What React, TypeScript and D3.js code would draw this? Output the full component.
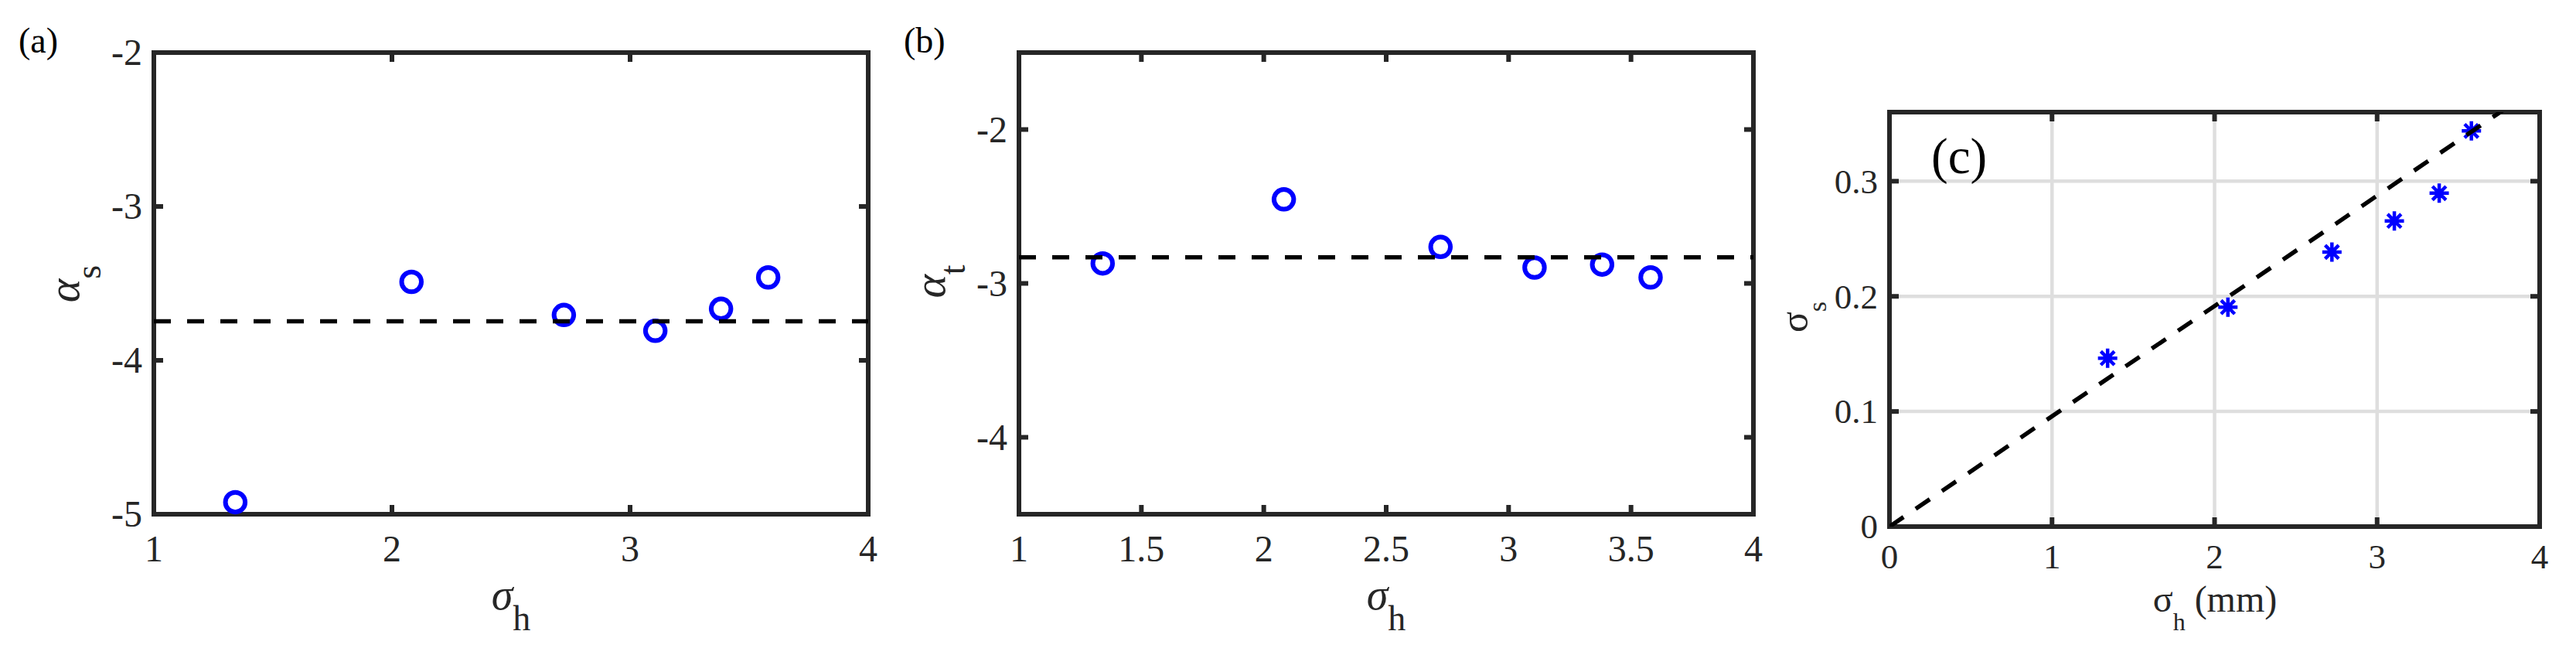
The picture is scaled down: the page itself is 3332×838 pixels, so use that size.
import React, { useEffect, useRef } from "react";
import * as d3 from "d3";

// sigma_h of the six cases (shared x values)
const sigmaH = [1.342, 2.082, 2.722, 3.106, 3.382, 3.58];
// panel (a) and (b) exponents, panel (c) sigma_s
const alphaS = [-4.922, -3.49, -3.705, -3.808, -3.665, -3.461];
const alphaT = [-2.87, -2.454, -2.763, -2.897, -2.878, -2.961];
const sigmaS = [0.1463, 0.1906, 0.2385, 0.2655, 0.2896, 0.3437];
// reference (dashed) lines
const alphaSLevel = -3.746;
const alphaTLevel = -2.83;
const fitSlope = 0.0958;

const ticksAx = [1, 2, 3, 4];
const ticksAy = [-5, -4, -3, -2];
const ticksBx = [1, 1.5, 2, 2.5, 3, 3.5, 4];
const ticksBy = [-4, -3, -2];
const ticksCx = [0, 1, 2, 3, 4];
const ticksCy = [0, 0.1, 0.2, 0.3];

const W = 3332;
const H = 838;
const AX = "#262626";
const BLUE = "#0000ff";
const FONT = "Liberation Serif, Times New Roman, Times, serif";

type Panel = {
  left: number; right: number; top: number; bottom: number;
  xDomain: [number, number]; yDomain: [number, number];
  xTicks: number[]; yTicks: number[];
  tickSize: number; xLabelY: number; grid: boolean;
};

function drawFrame(svg: any, p: Panel) {
  const x = d3.scaleLinear().domain(p.xDomain).range([p.left, p.right]);
  const y = d3.scaleLinear().domain(p.yDomain).range([p.bottom, p.top]);
  const g = svg.append("g");

  if (p.grid) {
    // light grid lines, under the data
    g.selectAll(".gx").data(p.xTicks.filter(t => t > p.xDomain[0] && t < p.xDomain[1]))
      .enter().append("line")
      .attr("x1", d => x(d)).attr("x2", d => x(d))
      .attr("y1", p.top).attr("y2", p.bottom)
      .attr("stroke", "#dedede").attr("stroke-width", 4.5);
    g.selectAll(".gy").data(p.yTicks.filter(t => t > p.yDomain[0] && t < p.yDomain[1]))
      .enter().append("line")
      .attr("y1", d => y(d)).attr("y2", d => y(d))
      .attr("x1", p.left).attr("x2", p.right)
      .attr("stroke", "#dedede").attr("stroke-width", 4.5);
  }

  const tl = 12;
  p.xTicks.forEach(t => {
    [[p.bottom, p.bottom - tl], [p.top, p.top + tl]].forEach(([a, b]) => {
      g.append("line").attr("x1", x(t)).attr("x2", x(t)).attr("y1", a).attr("y2", b)
        .attr("stroke", AX).attr("stroke-width", 6);
    });
    g.append("text").attr("x", x(t)).attr("y", p.xLabelY)
      .attr("text-anchor", "middle").attr("fill", AX)
      .attr("font-family", FONT).attr("font-size", p.tickSize)
      .text(String(t));
  });
  p.yTicks.forEach(t => {
    [[p.left, p.left + tl], [p.right, p.right - tl]].forEach(([a, b]) => {
      g.append("line").attr("y1", y(t)).attr("y2", y(t)).attr("x1", a).attr("x2", b)
        .attr("stroke", AX).attr("stroke-width", 6);
    });
    g.append("text").attr("x", p.left - 15).attr("y", y(t) + 0.34 * p.tickSize)
      .attr("text-anchor", "end").attr("fill", AX)
      .attr("font-family", FONT).attr("font-size", p.tickSize)
      .text(String(t));
  });

  g.append("rect")
    .attr("x", p.left).attr("y", p.top)
    .attr("width", p.right - p.left).attr("height", p.bottom - p.top)
    .attr("fill", "none").attr("stroke", AX).attr("stroke-width", 6);

  return { x, y };
}

function subLabel(svg: any, opts: {
  x: number; y: number; rotate: boolean; main: string; sub: string; rest?: string;
  italic: boolean; mainSize: number; subSize: number; shift: number;
}) {
  const t = svg.append("text")
    .attr("transform", `translate(${opts.x},${opts.y})${opts.rotate ? " rotate(-90)" : ""}`)
    .attr("text-anchor", "middle").attr("fill", AX)
    .attr("font-family", FONT);
  t.append("tspan").attr("font-size", opts.mainSize)
    .attr("font-style", opts.italic ? "italic" : "normal").text(opts.main);
  t.append("tspan").attr("font-size", opts.subSize)
    .attr("dy", opts.shift).text(opts.sub);
  if (opts.rest) {
    t.append("tspan").attr("font-size", opts.mainSize)
      .attr("dy", -opts.shift).text(opts.rest);
  }
}

function panelTag(svg: any, x: number, y: number, size: number, txt: string) {
  svg.append("text").attr("x", x).attr("y", y).attr("fill", "#000")
    .attr("font-family", FONT).attr("font-size", size).text(txt);
}

function circles(svg: any, x: any, y: any, ys: number[]) {
  svg.selectAll(null).data(sigmaH).enter().append("circle")
    .attr("cx", d => x(d)).attr("cy", (d, i) => y(ys[i]))
    .attr("r", 12.75).attr("fill", "none")
    .attr("stroke", BLUE).attr("stroke-width", 6);
}

function hDash(svg: any, x: any, y: any, dom: [number, number], level: number) {
  svg.append("line")
    .attr("x1", x(dom[0])).attr("x2", x(dom[1]))
    .attr("y1", y(level)).attr("y2", y(level))
    .attr("stroke", "#000").attr("stroke-width", 5.5)
    .attr("stroke-dasharray", "22 21");
}

const App = () => {
  const ref = useRef<SVGSVGElement>(null);

  useEffect(() => {
    const svg = d3.select(ref.current);
    svg.selectAll("*").remove();
    svg.append("rect").attr("width", W).attr("height", H).attr("fill", "#fff");

    // ---- (a)
    const pa: Panel = {
      left: 199, right: 1123, top: 68, bottom: 665,
      xDomain: [1, 4], yDomain: [-5, -2], xTicks: ticksAx, yTicks: ticksAy,
      tickSize: 48, xLabelY: 726, grid: false,
    };
    const a = drawFrame(svg, pa);
    circles(svg, a.x, a.y, alphaS);
    hDash(svg, a.x, a.y, pa.xDomain, alphaSLevel);
    subLabel(svg, { x: 102, y: 367, rotate: true, main: "α", sub: "s", italic: true, mainSize: 58, subSize: 46, shift: 28 });
    subLabel(svg, { x: 661, y: 788, rotate: false, main: "σ", sub: "h", italic: true, mainSize: 56, subSize: 46, shift: 27 });
    panelTag(svg, 24, 68, 46, "(a)");

    // ---- (b)
    const pb: Panel = {
      left: 1318, right: 2268, top: 68, bottom: 665,
      xDomain: [1, 4], yDomain: [-4.5, -1.5], xTicks: ticksBx, yTicks: ticksBy,
      tickSize: 48, xLabelY: 726, grid: false,
    };
    const b = drawFrame(svg, pb);
    circles(svg, b.x, b.y, alphaT);
    hDash(svg, b.x, b.y, pb.xDomain, alphaTLevel);
    subLabel(svg, { x: 1222, y: 364, rotate: true, main: "α", sub: "t", italic: true, mainSize: 58, subSize: 46, shift: 26 });
    subLabel(svg, { x: 1793, y: 788, rotate: false, main: "σ", sub: "h", italic: true, mainSize: 56, subSize: 46, shift: 27 });
    panelTag(svg, 1169, 68, 46, "(b)");

    // ---- (c)
    const pc: Panel = {
      left: 2444, right: 3285, top: 145, bottom: 681,
      xDomain: [0, 4], yDomain: [0, 0.36], xTicks: ticksCx, yTicks: ticksCy,
      tickSize: 45, xLabelY: 735, grid: true,
    };
    const c = drawFrame(svg, pc);
    svg.append("clipPath").attr("id", "clipC").append("rect")
      .attr("x", pc.left).attr("y", pc.top)
      .attr("width", pc.right - pc.left).attr("height", pc.bottom - pc.top);

    const star = "M-12.5,0L12.5,0M0,-12.5L0,12.5M-8.8,-8.8L8.8,8.8M-8.8,8.8L8.8,-8.8";
    svg.selectAll(null).data(sigmaH).enter().append("path")
      .attr("transform", (d, i) => `translate(${c.x(d)},${c.y(sigmaS[i])})`)
      .attr("d", star).attr("fill", "none")
      .attr("stroke", BLUE).attr("stroke-width", 4.5);

    const fitLine = d3.line<number>().x(d => c.x(d)).y(d => c.y(d * fitSlope));
    svg.append("path").datum(pc.xDomain)
      .attr("d", fitLine).attr("clip-path", "url(#clipC)")
      .attr("fill", "none").attr("stroke", "#000").attr("stroke-width", 5.5)
      .attr("stroke-dasharray", "22 19");

    subLabel(svg, { x: 2338, y: 410, rotate: true, main: "σ", sub: "s", italic: false, mainSize: 50, subSize: 34, shift: 24 });
    subLabel(svg, { x: 2865, y: 791, rotate: false, main: "σ", sub: "h", rest: " (mm)", italic: false, mainSize: 48, subSize: 32, shift: 24 });
    panelTag(svg, 2498, 224, 65, "(c)");
  }, []);

  return (
    <svg ref={ref} width={W} height={H} fontFamily={FONT}
      style={{ position: "absolute", left: 0, top: 0, display: "block" }} />
  );
};

export default App;
